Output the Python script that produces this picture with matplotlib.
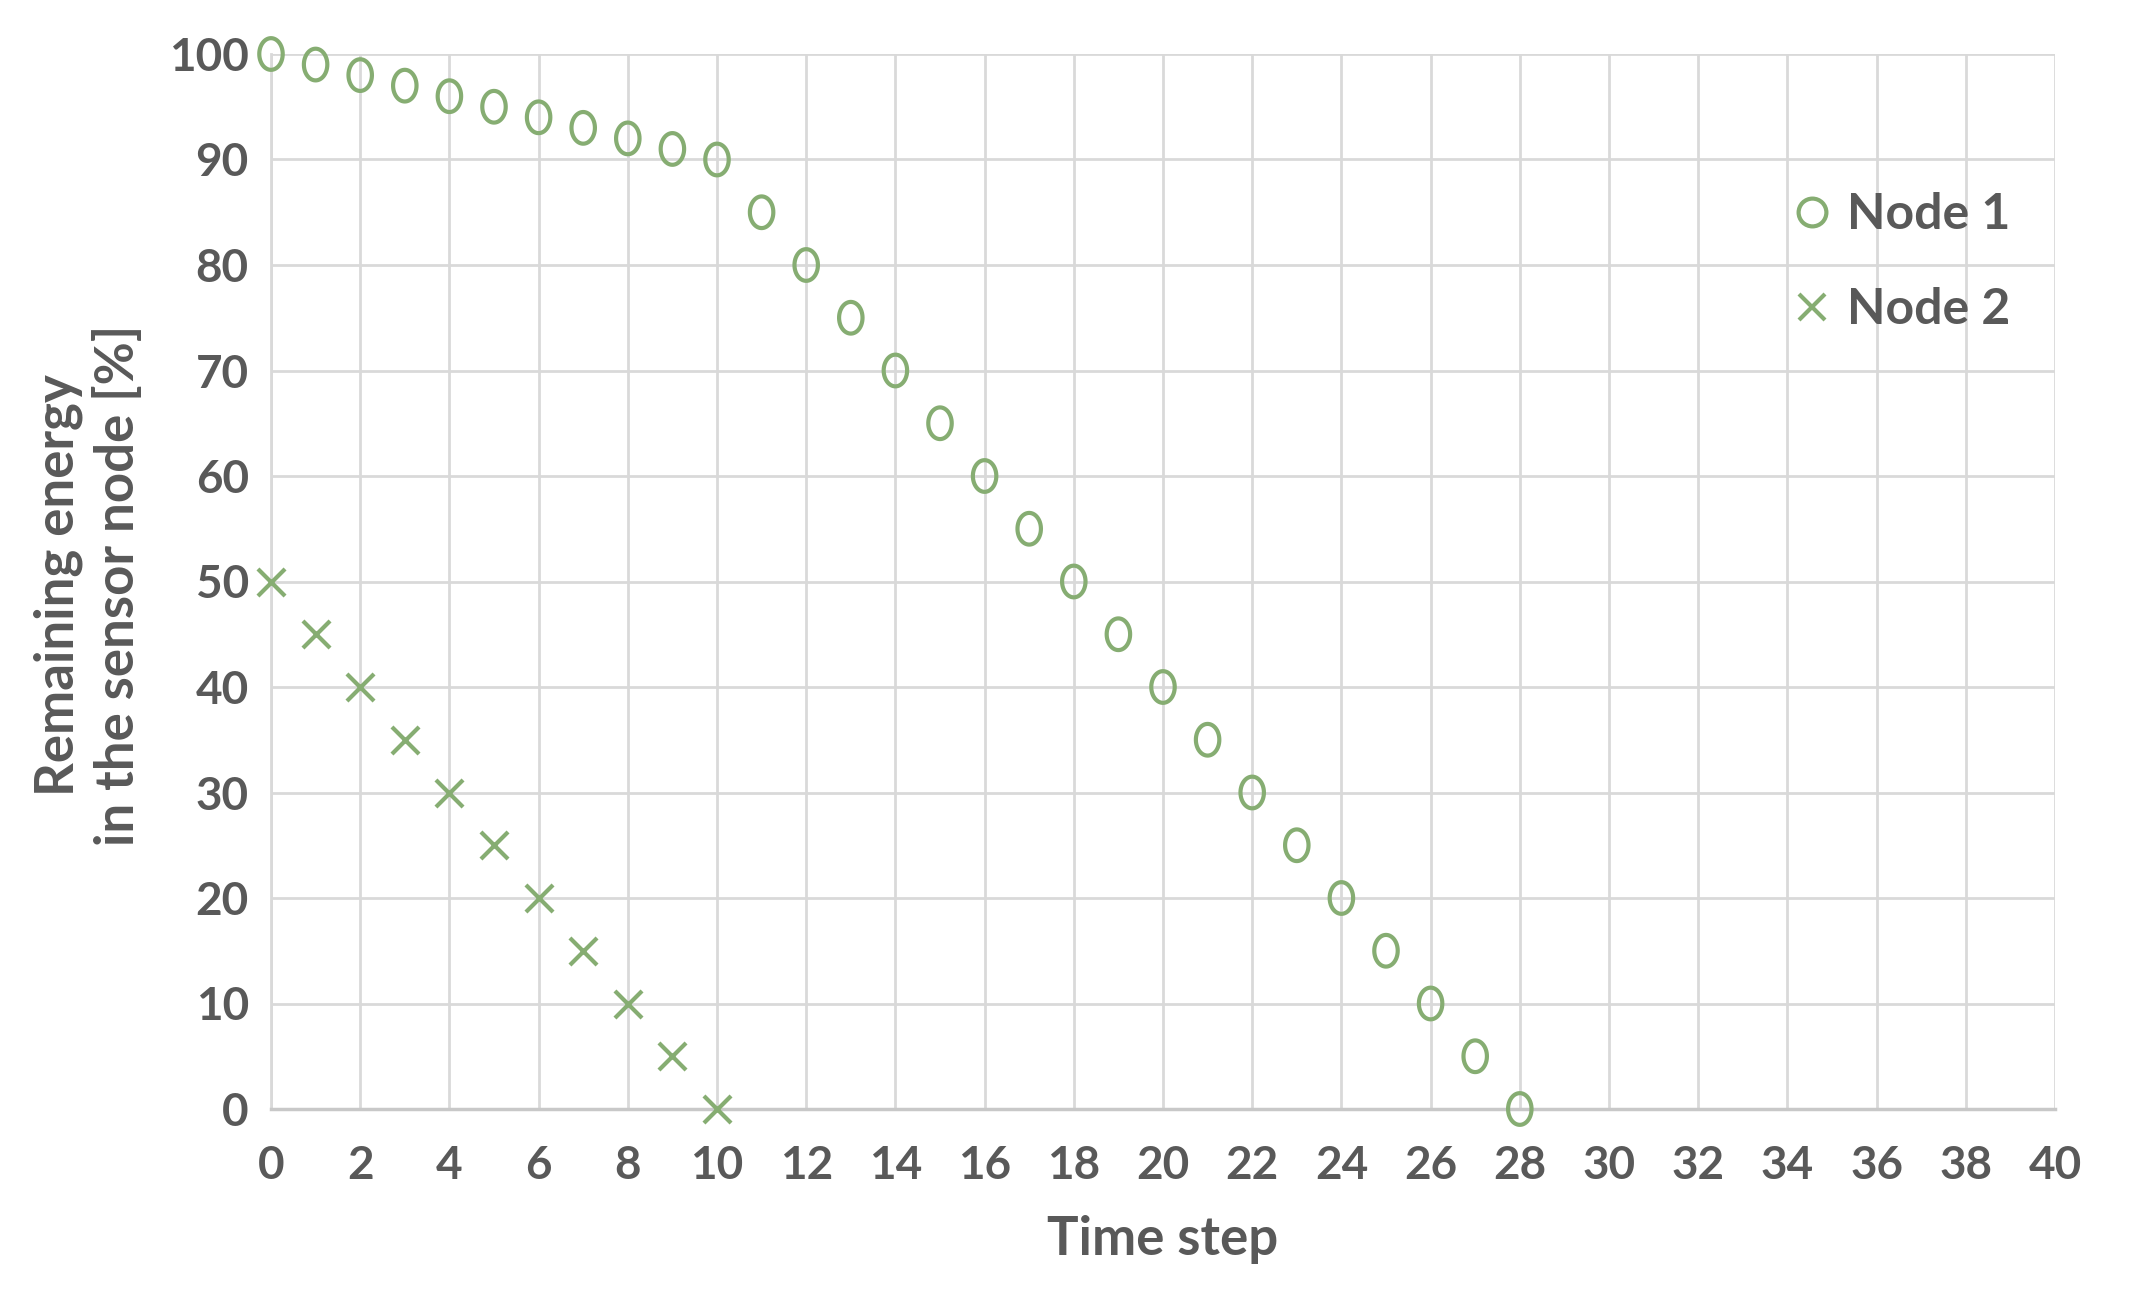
import numpy as np
import matplotlib
matplotlib.use("Agg")
import matplotlib.pyplot as plt
from matplotlib.path import Path
from matplotlib.lines import Line2D

plt.rcParams['font.family'] = ['Lato', 'DejaVu Sans']

# Data
node1_x = [0, 1, 2, 3, 4, 5, 6, 7, 8, 9, 10, 11, 12, 13, 14, 15, 16, 17, 18, 19,
           20, 21, 22, 23, 24, 25, 26, 27, 28]
node1_y = [100, 99, 98, 97, 96, 95, 94, 93, 92, 91, 90, 85, 80, 75, 70, 65, 60, 55,
           50, 45, 40, 35, 30, 25, 20, 15, 10, 5, 0]
node2_x = [0, 1, 2, 3, 4, 5, 6, 7, 8, 9, 10]
node2_y = [50, 45, 40, 35, 30, 25, 20, 15, 10, 5, 0]
x_ticks = list(range(0, 41, 2))
y_ticks = list(range(0, 101, 10))

GREEN = '#86AD72'
TXT = '#595959'
GRID = '#D9D9D9'

# slightly tall ellipse marker (as in reference)
t = np.linspace(0, 2 * np.pi, 60)
ell = Path(np.column_stack([0.74 * np.cos(t), np.sin(t)]), closed=True)

fig = plt.figure(figsize=(21.34, 13.07), dpi=100)
ax = fig.add_axes([271 / 2134, 1 - 1109 / 1307, (2055 - 271) / 2134, (1109 - 54) / 1307])

ax.set_xlim(0, 40)
ax.set_ylim(0, 100)
ax.set_xticks(x_ticks)
ax.set_yticks(y_ticks)
ax.grid(True, color=GRID, linewidth=2)
ax.set_axisbelow(True)
for s in ['top', 'right']:
    ax.spines[s].set_visible(False)
ax.spines['left'].set_color(GRID)
ax.spines['left'].set_linewidth(2)
ax.spines['bottom'].set_color('#C8C8C8')
ax.spines['bottom'].set_linewidth(2.5)
ax.tick_params(axis='both', length=0, labelsize=33, labelcolor=TXT)
ax.tick_params(axis='y', pad=16)
ax.tick_params(axis='x', pad=26)
for lab in ax.get_xticklabels() + ax.get_yticklabels():
    lab.set_fontweight('bold')

ax.scatter(node1_x, node1_y, marker=ell, s=520, facecolors='none',
           edgecolors=GREEN, linewidths=3, clip_on=False, zorder=3)
ax.scatter(node2_x, node2_y, marker='x', s=380, color=GREEN,
           linewidths=3, clip_on=False, zorder=3)

ax.set_xlabel('Time step', fontsize=38, fontweight='bold', color=TXT, labelpad=20)
fig.text(88 / 2134, 1 - 585 / 1307, 'Remaining energy\nin the sensor node [%]',
         rotation=90, ha='center', va='center', fontsize=38, fontweight='bold',
         color=TXT, linespacing=1.25)

h1 = Line2D([], [], linestyle='none', marker='o', markersize=20, markerfacecolor='none',
            markeredgecolor=GREEN, markeredgewidth=3, label='Node 1')
h2 = Line2D([], [], linestyle='none', marker='x', markersize=19, color=GREEN,
            markeredgewidth=3, label='Node 2')
leg = fig.legend(handles=[h1, h2], loc='upper left',
                 bbox_to_anchor=(1792 / 2134, 1 - 192 / 1307),
                 frameon=False, prop={'size': 36, 'weight': 'bold'},
                 labelcolor=TXT, handlelength=0.8, handletextpad=0.3,
                 labelspacing=1.0, borderaxespad=0, borderpad=0)

fig.savefig('out.png', dpi=100, facecolor='white')
